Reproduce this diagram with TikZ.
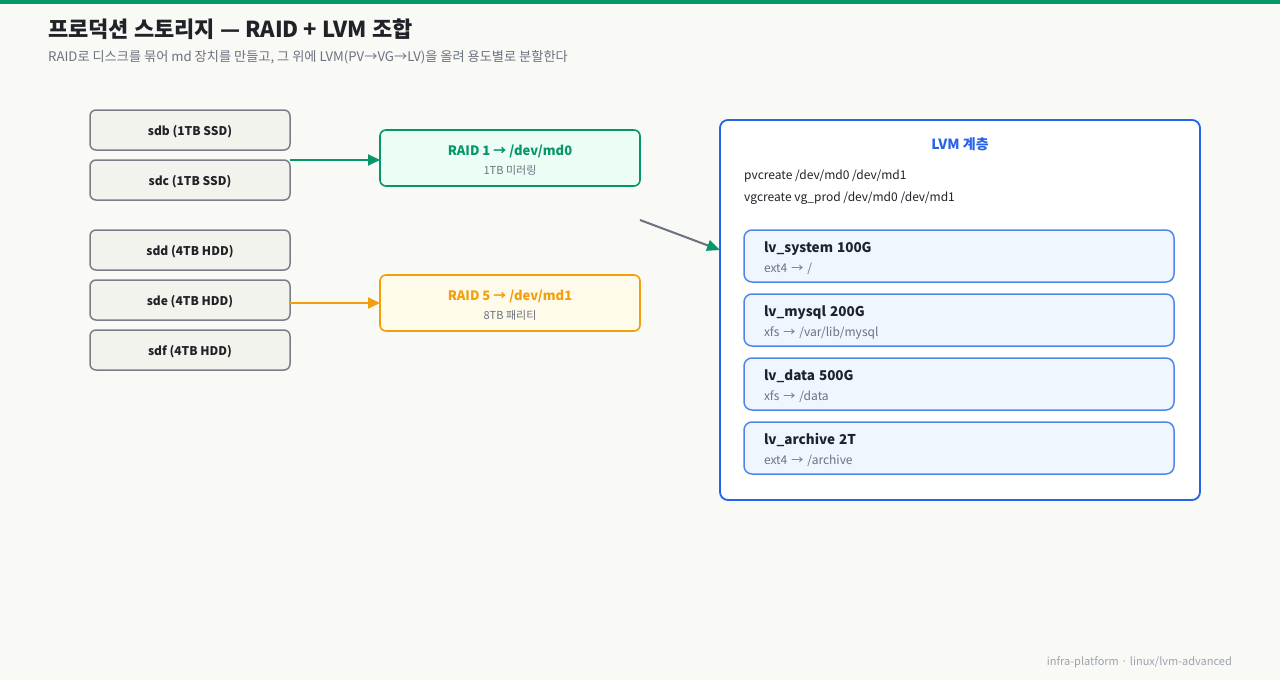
\documentclass[tikz,border=0pt]{standalone}
\usepackage{fontspec}
\setmainfont{Noto Sans CJK KR}
\usepackage{xcolor}
\usetikzlibrary{arrows.meta,positioning}

\definecolor{bgc}{HTML}{F9F9F6}
\definecolor{ink}{HTML}{1F2328}
\definecolor{muted}{HTML}{6B7280}
\definecolor{faint}{HTML}{9CA3AF}
\definecolor{diskfill}{HTML}{F3F3EE}
\definecolor{diskline}{HTML}{7A7F87}
\definecolor{mirror}{HTML}{059669}
\definecolor{mirrorfill}{HTML}{ECFDF5}
\definecolor{parity}{HTML}{F59E0B}
\definecolor{parityfill}{HTML}{FFFBEB}
\definecolor{lvmblue}{HTML}{2563EB}
\definecolor{lvline}{HTML}{4F86F0}
\definecolor{lvfill}{HTML}{EFF6FF}

\begin{document}
\begin{tikzpicture}[x=1pt, y=-1pt,
    disk/.style = {shape=rectangle, rounded corners=6pt, draw=diskline, fill=diskfill, line width=1.5pt,
      outer sep=0pt, minimum width=200pt, minimum height=40pt, text height=11.5pt, text depth=1.5pt,
      text=ink, font=\fontsize{12}{14}\selectfont\bfseries},
    raid/.style = {shape=rectangle, rounded corners=6pt, line width=1.6pt, align=center, outer sep=0pt,
      minimum width=260pt, minimum height=56pt},
    lv/.style = {shape=rectangle, rounded corners=8pt, draw=lvline, fill=lvfill, line width=1.5pt, outer sep=0pt,
      minimum width=430pt, minimum height=52pt, text width=390pt, inner xsep=20pt, align=left,
      text=ink, font=\fontsize{12}{20}\selectfont},
    link/.style = {line width=2pt, -{Triangle[length=12pt, width=11pt]}}]

  % canvas
  \fill[bgc] (0,0) rectangle (1280,680);
  \useasboundingbox (0,0) rectangle (1280,680);
  \fill[mirror] (0,0) rectangle (1280,4);

  \node[anchor=west, inner xsep=0pt, text=ink, font=\fontsize{22}{26}\selectfont\bfseries] (title) at (48,29)
    {프로덕션 스토리지 — RAID + LVM 조합};
  \node[anchor=west, inner xsep=0pt, text=muted, font=\fontsize{13.2}{16}\selectfont] (subtitle) at (48,57)
    {RAID로 디스크를 묶어 md 장치를 만들고, 그 위에 LVM(PV→VG→LV)을 올려 용도별로 분할한다};

  % disks
  \node[disk] (sdb) at (190,130) {sdb (1TB SSD)};
  \node[disk, below=10pt of sdb] (sdc) {sdc (1TB SSD)};
  \node[disk, below=30pt of sdc] (sdd) {sdd (4TB HDD)};
  \node[disk, below=10pt of sdd] (sde) {sde (4TB HDD)};
  \node[disk, below=10pt of sde] (sdf) {sdf (4TB HDD)};

  % md devices
  \node[raid, draw=mirror, fill=mirrorfill] (md0) at (510,158)
    {\rule{0pt}{15pt}{\color{mirror}\fontsize{13}{16}\selectfont\bfseries RAID 1 → /dev/md0}\\[7pt]
     {\color{muted}\fontsize{11}{13}\selectfont 1TB 미러링}};
  \node[raid, draw=parity, fill=parityfill] (md1) at (510,303)
    {\rule{0pt}{15pt}{\color{parity}\fontsize{13}{16}\selectfont\bfseries RAID 5 → /dev/md1}\\[7pt]
     {\color{muted}\fontsize{11}{13}\selectfont 8TB 패리티}};

  \draw[link, draw=mirror, fill=mirror] (sdc.north east) -- (md0.west |- sdc.north east);
  \draw[link, draw=parity, fill=parity] (sde.east |- md1.west) -- (md1.west);

  % LVM
  \node[shape=rectangle, rounded corners=8pt, draw=lvmblue, fill=white, line width=1.8pt, outer sep=0pt,
    minimum width=480pt, minimum height=380pt] (lvm) at (960,310) {};
  \node[text=lvmblue, font=\fontsize{14}{17}\selectfont\bfseries] (lvmtitle) at (960,144) {LVM 계층};
  \node[anchor=west, inner xsep=0pt, text=ink, font=\fontsize{12}{14}\selectfont] (pv) at (744,176)
    {pvcreate /dev/md0 /dev/md1};
  \node[anchor=west, inner xsep=0pt, text=ink, font=\fontsize{12}{14}\selectfont] (vg) at (744,198)
    {vgcreate vg\_prod /dev/md0 /dev/md1};

  \node[lv] (lvsys) at (959,256)
    {\rule{0pt}{15pt}{\fontsize{13.5}{20}\selectfont\bfseries lv\_system 100G}\\{\color{muted}ext4 → /}};
  \node[lv, below=12pt of lvsys] (lvdb)
    {\rule{0pt}{15pt}{\fontsize{13.5}{20}\selectfont\bfseries lv\_mysql 200G}\\{\color{muted}xfs → /var/lib/mysql}};
  \node[lv, below=12pt of lvdb] (lvdata)
    {\rule{0pt}{15pt}{\fontsize{13.5}{20}\selectfont\bfseries lv\_data 500G}\\{\color{muted}xfs → /data}};
  \node[lv, below=12pt of lvdata] (lvarch)
    {\rule{0pt}{15pt}{\fontsize{13.5}{20}\selectfont\bfseries lv\_archive 2T}\\{\color{muted}ext4 → /archive}};

  \coordinate (merge) at (640,220);
  \coordinate (pvin) at (720,250);
  \draw[line width=2pt, draw=muted, -{Triangle[length=13pt, width=11pt, color=mirror]}] (merge) -- (pvin);

  \node[anchor=east, inner xsep=0pt, text=faint, font=\fontsize{11}{13}\selectfont] (footer) at (1232,662)
    {infra-platform · linux/lvm-advanced};
\end{tikzpicture}
\end{document}
